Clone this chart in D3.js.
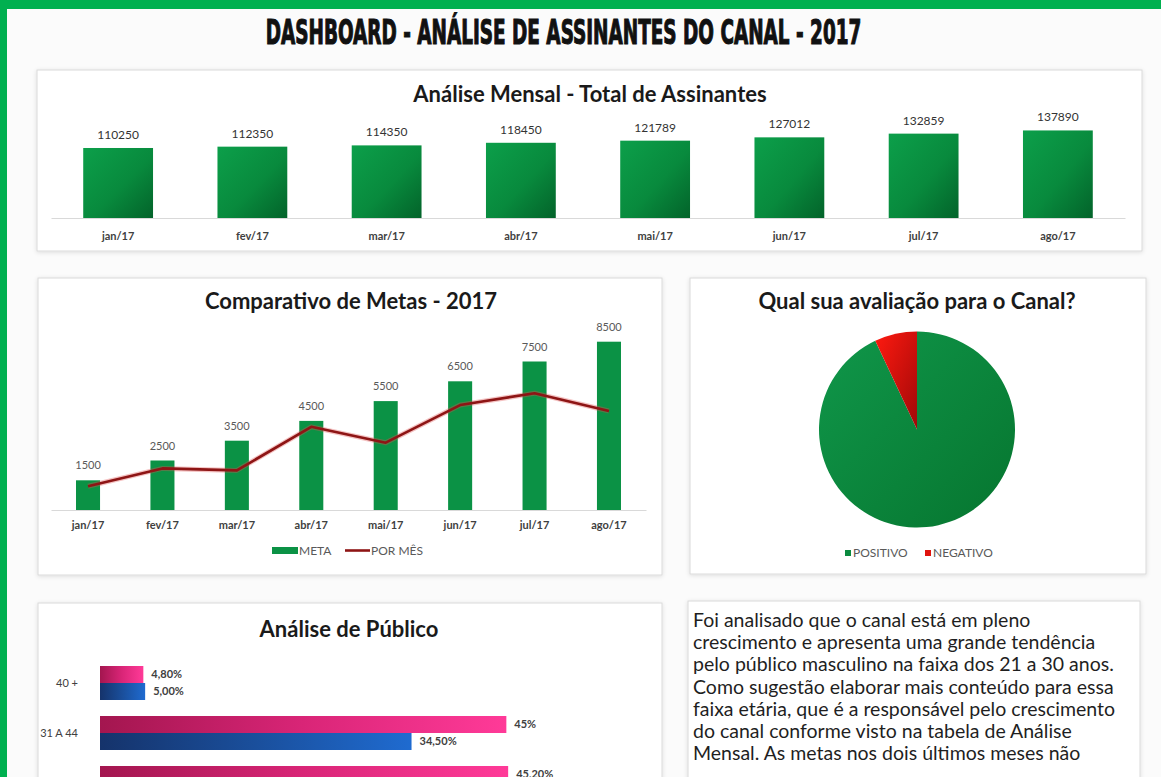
<!DOCTYPE html>
<html>
<head>
<meta charset="utf-8">
<script src="https://cdn.jsdelivr.net/npm/d3@7"></script>
<style>
  html, body { margin: 0; padding: 0; background: #fbfbfb; }
  svg { display: block; font-family: Lato, "Open Sans", sans-serif; }
</style>
</head>
<body>
<div id="dash"></div>
<script>
// ===== Dados =====
const meses = ["jan/17", "fev/17", "mar/17", "abr/17", "mai/17", "jun/17", "jul/17", "ago/17"];
const assinantes = [110250, 112350, 114350, 118450, 121789, 127012, 132859, 137890];
const metas = [1500, 2500, 3500, 4500, 5500, 6500, 7500, 8500];
const porMes = [1200, 2100, 2000, 4200, 3400, 5300, 5900, 5000];

const avaliacaoCat = ["POSITIVO", "NEGATIVO"];
const avaliacaoVal = [93, 7];

const faixas = ["40 +", "31 A 44", "21 A 30"];
const feminino = [4.8, 45, 45.2];
const masculino = [5.0, 34.5, null];
const rotFem = ["4,80%", "45%", "45,20%"];
const rotMasc = ["5,00%", "34,50%", ""];

const textoAnalise = [
  "Foi analisado que o canal está em pleno",
  "crescimento e apresenta uma grande tendência",
  "pelo público masculino na faixa dos 21 a 30 anos.",
  "Como sugestão elaborar mais conteúdo para essa",
  "faixa etária, que é a responsável pelo crescimento",
  "do canal conforme visto na tabela de Análise",
  "Mensal. As metas nos dois últimos meses não"
];

// ===== Base =====
const W = 1161, H = 777;
const svg = d3.select("#dash").append("svg").attr("width", W).attr("height", H);
const defs = svg.append("defs");

const sombra = defs.append("filter").attr("id", "sombra")
  .attr("x", "-3%").attr("y", "-3%").attr("width", "106%").attr("height", "106%");
sombra.append("feDropShadow").attr("dx", 0).attr("dy", 1).attr("stdDeviation", 2)
  .attr("flood-color", "#000").attr("flood-opacity", 0.12);

function gradiente(id, stops, x2, y2) {
  const g = defs.append("linearGradient").attr("id", id)
    .attr("x1", 0).attr("y1", 0).attr("x2", x2).attr("y2", y2);
  stops.forEach(([o, c]) => g.append("stop").attr("offset", o).attr("stop-color", c));
}
gradiente("gVerde", [[0, "#0c9f4a"], [0.55, "#088a3d"], [1, "#03632a"]], 1, 1);
gradiente("gPizza", [[0, "#10974a"], [1, "#06752f"]], 1, 1);
gradiente("gVermelho", [[0, "#ff1a10"], [1, "#a00808"]], 1, 1);
gradiente("gRosa", [[0, "#a3164f"], [0.5, "#d92577"], [1, "#ff3a98"]], 1, 0);
gradiente("gAzul", [[0, "#15336b"], [0.5, "#1a4f9c"], [1, "#1f6bd0"]], 1, 0);

svg.append("rect").attr("width", W).attr("height", H).attr("fill", "#fbfbfb");
svg.append("rect").attr("x", 0).attr("y", 0).attr("width", W).attr("height", 9).attr("fill", "#00b050");
svg.append("rect").attr("x", 0).attr("y", 0).attr("width", 7).attr("height", H).attr("fill", "#00b050");

// título principal: fonte estreita e comprimida até a largura do original
const gTit = svg.append("g").attr("transform", "translate(563.5,44)");
const tPrinc = gTit.append("text")
  .attr("text-anchor", "middle")
  .attr("font-family", "'Liberation Sans Narrow', 'DejaVu Sans Condensed', sans-serif")
  .attr("font-weight", "bold")
  .attr("font-size", 33)
  .attr("fill", "#111").attr("stroke", "#111").attr("stroke-width", 1.1)
  .text("DASHBOARD - ANÁLISE DE ASSINANTES DO CANAL - 2017");
const larg = tPrinc.node().getComputedTextLength();
tPrinc.attr("transform", `scale(${596 / larg},1)`);

function painel(x, y, w, h) {
  svg.append("rect").attr("x", x).attr("y", y).attr("width", w).attr("height", h)
    .attr("fill", "#fff").attr("stroke", "#dadada").attr("filter", "url(#sombra)");
}
function titulo(txt, x, y) {
  svg.append("text").attr("x", x).attr("y", y).attr("text-anchor", "middle")
    .attr("font-weight", "bold").attr("font-size", 22).attr("fill", "#1a1a1a").text(txt);
}
function estiloEixo(g) {
  g.select(".domain").attr("stroke", "#d9d9d9");
  g.selectAll("text").attr("font-family", "Lato, sans-serif").attr("font-weight", "bold")
    .attr("font-size", 11).attr("fill", "#404040");
}

painel(37, 70, 1105, 181);
painel(38, 278, 624, 297);
painel(690, 278, 456, 296);
painel(38, 603, 624, 200);
painel(688, 601, 452, 200);

// ===== 1. Análise Mensal =====
titulo("Análise Mensal - Total de Assinantes", 590, 102);
const base1 = 218;
const x1 = d3.scaleBand().domain(meses).range([51, 1125]).paddingInner(0.48).paddingOuter(0.24);
const y1 = d3.scaleLinear().domain([0, 160000]).range([base1, base1 - 101.6]);

svg.selectAll(".bar1").data(meses).enter().append("rect")
  .attr("class", "bar1")
  .attr("x", d => x1(d))
  .attr("y", (d, i) => y1(assinantes[i]))
  .attr("width", x1.bandwidth())
  .attr("height", (d, i) => base1 - y1(assinantes[i]))
  .attr("fill", "url(#gVerde)");

svg.selectAll(".lab1").data(meses).enter().append("text")
  .attr("class", "lab1")
  .attr("x", d => x1(d) + x1.bandwidth() / 2)
  .attr("y", (d, i) => y1(assinantes[i]) - 9)
  .attr("text-anchor", "middle").attr("font-size", 12).attr("fill", "#333")
  .text((d, i) => assinantes[i]);

svg.append("g").attr("transform", `translate(0,${base1})`)
  .call(d3.axisBottom(x1).tickSize(0).tickPadding(14))
  .call(estiloEixo);

// ===== 2. Comparativo de Metas =====
titulo("Comparativo de Metas - 2017", 351, 309);
const base2 = 510;
const x2 = d3.scaleBand().domain(meses).range([51, 646]).paddingInner(0.677).paddingOuter(0.336);
const y2 = d3.scaleLinear().domain([0, 10000]).range([base2, base2 - 198]);

svg.selectAll(".bar2").data(meses).enter().append("rect")
  .attr("class", "bar2")
  .attr("x", d => x2(d))
  .attr("y", (d, i) => y2(metas[i]))
  .attr("width", x2.bandwidth())
  .attr("height", (d, i) => base2 - y2(metas[i]))
  .attr("fill", "#0b9245");

svg.selectAll(".lab2").data(meses).enter().append("text")
  .attr("class", "lab2")
  .attr("x", d => x2(d) + x2.bandwidth() / 2)
  .attr("y", (d, i) => y2(metas[i]) - 11)
  .attr("text-anchor", "middle").attr("font-size", 11).attr("fill", "#595959")
  .text((d, i) => metas[i]);

const linha = d3.line()
  .x((d, i) => x2(meses[i]) + x2.bandwidth() / 2)
  .y(d => y2(d));
svg.append("path").datum(porMes).attr("d", linha)
  .attr("fill", "none").attr("stroke", "#e05050").attr("stroke-opacity", 0.35)
  .attr("stroke-width", 5).attr("stroke-linejoin", "round");
svg.append("path").datum(porMes).attr("d", linha)
  .attr("fill", "none").attr("stroke", "#8e1515")
  .attr("stroke-width", 2.6).attr("stroke-linejoin", "round");

svg.append("g").attr("transform", `translate(0,${base2})`)
  .call(d3.axisBottom(x2).tickSize(0).tickPadding(11))
  .call(estiloEixo);

// legenda
const leg2 = svg.append("g").attr("font-size", 12).attr("fill", "#595959");
leg2.append("rect").attr("x", 272).attr("y", 547).attr("width", 26).attr("height", 7).attr("fill", "#0b9245");
leg2.append("text").attr("x", 299).attr("y", 555).text("META");
leg2.append("line").attr("x1", 345).attr("x2", 370).attr("y1", 550.5).attr("y2", 550.5)
  .attr("stroke", "#8e1515").attr("stroke-width", 2.6);
leg2.append("text").attr("x", 371).attr("y", 555).text("POR MÊS");

// ===== 3. Avaliação =====
titulo("Qual sua avaliação para o Canal?", 917, 309);
const pizza = d3.pie().sort(null).value(d => d)(avaliacaoVal);
const arco = d3.arc().innerRadius(0).outerRadius(98);
const coresPizza = ["url(#gPizza)", "url(#gVermelho)"];
svg.append("g").attr("transform", "translate(917,429.5)")
  .selectAll("path").data(pizza).enter().append("path")
  .attr("d", arco)
  .attr("fill", (d, i) => coresPizza[i]);

const leg3 = svg.append("g").attr("font-size", 12).attr("fill", "#595959");
const corLeg3 = ["#0b8a3f", "#e0140e"];
const posLeg3 = [845, 925];
avaliacaoCat.forEach((c, i) => {
  leg3.append("rect").attr("x", posLeg3[i]).attr("y", 550).attr("width", 6).attr("height", 6).attr("fill", corLeg3[i]);
  leg3.append("text").attr("x", posLeg3[i] + 8).attr("y", 557).text(c);
});

// ===== 4. Análise de Público =====
titulo("Análise de Público", 349, 637);
const x4 = d3.scaleLinear().domain([0, 50]).range([100, 100 + 50 * 9.03]);
const y4 = d3.scaleBand().domain(faixas).range([666, 800]).paddingInner(0.32).paddingOuter(0);
const sub = d3.scaleBand().domain(["F", "M"]).range([0, y4.bandwidth()]);

const grupos = svg.selectAll(".grp4").data(faixas).enter().append("g")
  .attr("class", "grp4").attr("transform", d => `translate(0,${y4(d)})`);

grupos.append("rect")
  .attr("x", x4(0)).attr("y", sub("F"))
  .attr("width", (d, i) => x4(feminino[i]) - x4(0)).attr("height", sub.bandwidth())
  .attr("fill", "url(#gRosa)");
grupos.filter((d, i) => masculino[i] != null).append("rect")
  .attr("x", x4(0)).attr("y", sub("M"))
  .attr("width", d => x4(masculino[faixas.indexOf(d)]) - x4(0)).attr("height", sub.bandwidth())
  .attr("fill", "url(#gAzul)");

grupos.append("text")
  .attr("x", (d, i) => x4(feminino[i]) + 8).attr("y", sub("F") + sub.bandwidth() / 2)
  .attr("dy", "0.35em").attr("font-size", 11).attr("font-weight", "bold").attr("fill", "#404040")
  .text((d, i) => rotFem[i]);
grupos.filter((d, i) => masculino[i] != null).append("text")
  .attr("x", d => x4(masculino[faixas.indexOf(d)]) + 8).attr("y", sub("M") + sub.bandwidth() / 2)
  .attr("dy", "0.35em").attr("font-size", 11).attr("font-weight", "bold").attr("fill", "#404040")
  .text(d => rotMasc[faixas.indexOf(d)]);

svg.append("g").attr("transform", `translate(${x4(0)},0)`)
  .call(d3.axisLeft(y4).tickSize(0).tickPadding(22))
  .call(g => {
    g.select(".domain").remove();
    g.selectAll("text").attr("font-family", "Lato, sans-serif").attr("font-size", 11).attr("fill", "#404040");
  });

// ===== 5. Texto =====
const txt = svg.append("g").attr("font-size", 19.5).attr("fill", "#1f1f1f");
textoAnalise.forEach((l, i) => {
  txt.append("text").attr("x", 693).attr("y", 627 + i * 22.2).text(l);
});
</script>
</body>
</html>
